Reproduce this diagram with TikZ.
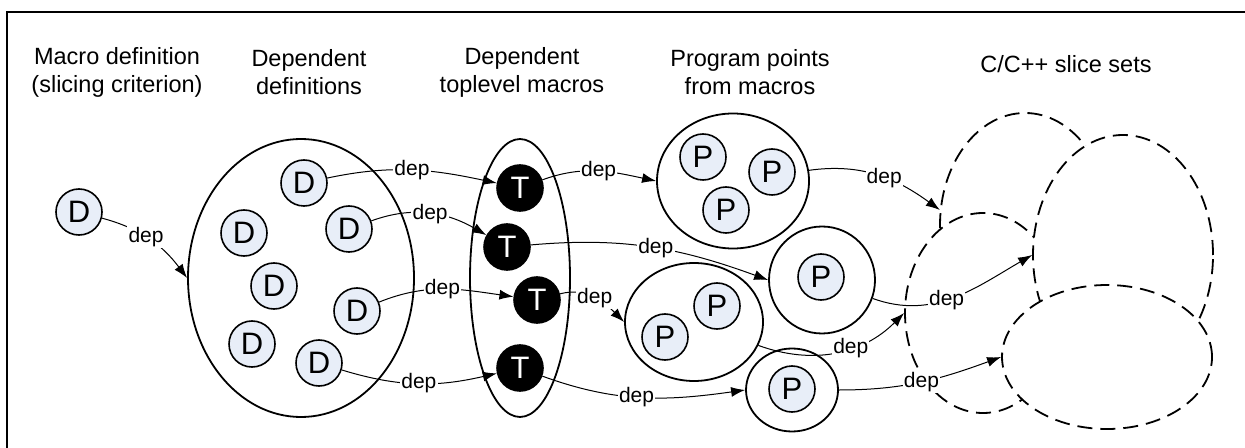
\documentclass[tikz,border=0pt]{standalone}
\usepackage{fontspec}
\setmainfont{Liberation Sans}
\usepackage{tikz}
\usetikzlibrary{shapes.geometric,arrows.meta}
\definecolor{dfill}{RGB}{232,238,248}

\begin{document}
\begin{tikzpicture}
		[x=0.5pt,y=-0.5pt,
		>={Latex[length=7pt,width=5pt]},
		n/.style= {font=\fontsize{15.5}{15.5}\selectfont,minimum size=23pt,inner sep=0pt,circle,line width=0.8pt,draw=black,fill=dfill},
		nt/.style= {n,fill=black,text=white},
		grp/.style= {ellipse,inner sep=0pt,line width=0.9pt,draw=black},
		slc/.style= {grp,dash pattern=on 7.5pt off 4pt,fill=white},
		lbl/.style= {font=\fontsize{10.5}{12}\selectfont,fill=white,inner sep=0.6pt},
		ttl/.style= {font=\fontsize{11.75}{14}\selectfont,align=center},
		every edge/.style= {draw,line width=0.5pt}]

		\useasboundingbox (0,0) rectangle (1245,448);
		\draw[line width=1pt] (1245,12) -- (7,12) -- (7,448);

		% titles
		\node[ttl] (h0) at (117,72) {Macro definition\\(slicing criterion)};
		\node[ttl] (h1) at (309,72) {Dependent\\definitions};
		\node[ttl] (h2) at (522,72) {Dependent\\toplevel macros};
		\node[ttl] (h3) at (750,72) {Program points\\from macros};
		\node[ttl] (h4) at (1066,64) {C/C++ slice sets};

		% slice sets
		\node[slc,minimum width=85pt,minimum height=112pt] (s1) at (1025,225) {};
		\node[slc,minimum width=78pt,minimum height=100pt] (s2) at (983,313) {};
		\node[slc,minimum width=90pt,minimum height=120pt] (s3) at (1123,255) {};
		\node[slc,minimum width=105pt,minimum height=72pt] (s4) at (1107,357) {};

		% program points
		\node[grp,minimum width=76pt,minimum height=67.5pt] (g1) at (733,181) {}
			edge [->, out=8, in=144] node[lbl,pos=0.55] {dep} (s1.170)
		;
		\node[grp,minimum width=53pt,minimum height=53.5pt] (g2) at (822,280) {}
			edge [->, out=-20, in=-150] node[lbl,pos=0.45] {dep} (s3.west)
		;
		\node[grp,minimum width=69pt,minimum height=59pt] (g3) at (694,322) {}
			edge [->, out=-20, in=-135] node[lbl,pos=0.6] {dep} (s2.west)
		;
		\node[grp,minimum width=46pt,minimum height=41.5pt] (g4) at (792,390) {}
			edge [->, out=0, in=-160] node[lbl,pos=0.5] {dep} (s4.west)
		;

		\node[n] (p1) at (703,157) {P};
		\node[n] (p2) at (772,172) {P};
		\node[n] (p3) at (726,210) {P};
		\node[n] (p4) at (821,277) {P};
		\node[n] (p5) at (717,306) {P};
		\node[n] (p6) at (665,337) {P};
		\node[n] (p7) at (792,389) {P};

		% toplevel macros
		\node[grp,minimum width=50pt,minimum height=139pt] (gt) at (520,278) {};

		\node[nt] (t1) at (520,188) {T}
			edge [->, out=20, in=168] node[lbl,pos=0.5] {dep} (g1.west)
		;
		\node[nt] (t2) at (507,247) {T}
			edge [->, out=5, in=160] node[lbl,pos=0.52] {dep} (g2.west)
		;
		\node[nt] (t3) at (537,300) {T}
			edge [->, out=15, in=135] node[lbl,pos=0.5] {dep} (g3.west)
		;
		\node[nt] (t4) at (520,368) {T}
			edge [->, out=-20, in=-172] node[lbl,pos=0.47] {dep} (g4.west)
		;

		% dependent definitions
		\node[grp,minimum width=113pt,minimum height=139pt] (g0) at (301,278) {};

		\node[n] (d1) at (304,183) {D}
			edge [->, out=12, in=168] node[lbl,pos=0.5] {dep} (t1)
		;
		\node[n] (d2) at (244,233) {D};
		\node[n] (d3) at (349,229) {D}
			edge [->, out=20, in=150] node[lbl,pos=0.5] {dep} (t2)
		;
		\node[n] (d4) at (274,286) {D};
		\node[n] (d5) at (357,311) {D}
			edge [->, out=22, in=172] node[lbl,pos=0.48] {dep} (t3)
		;
		\node[n] (d6) at (252,344) {D};
		\node[n] (d7) at (319,363) {D}
			edge [->, out=-17, in=-167] node[lbl,pos=0.5] {dep} (t4)
		;

		% slicing criterion
		\node[n] (d0) at (79,212) {D}
			edge [->, out=-15, in=127] node[lbl,pos=0.45] {dep} (g0.west)
		;

	\end{tikzpicture}
\end{document}
